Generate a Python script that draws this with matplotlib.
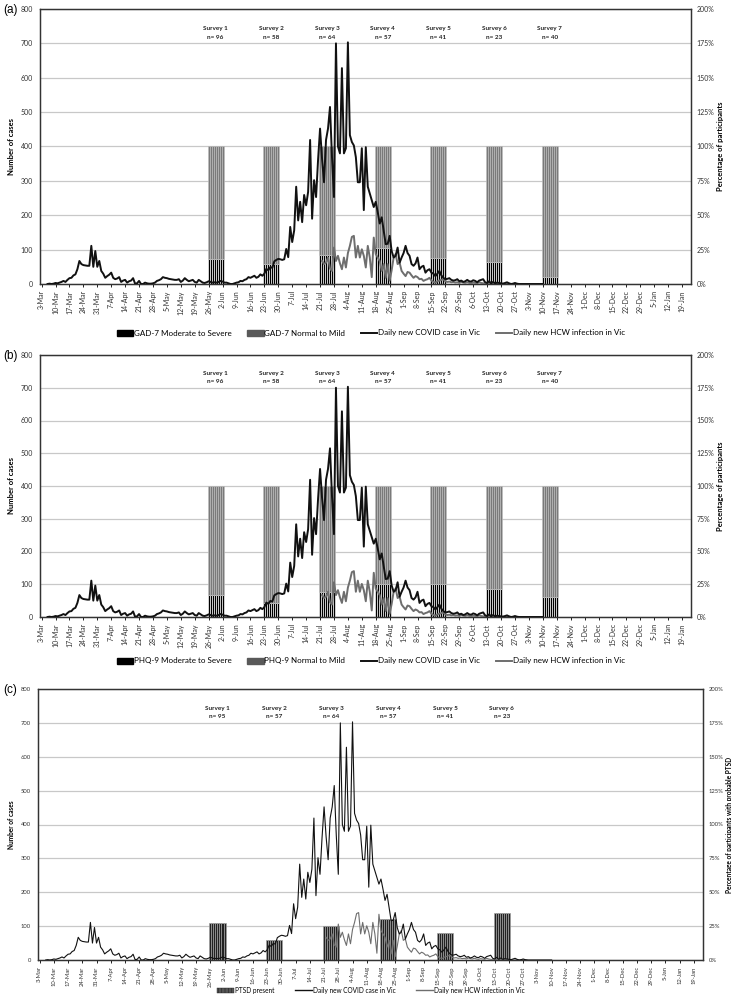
import numpy as np
import pandas as pd
import matplotlib
matplotlib.use("Agg")
import matplotlib.pyplot as plt
from matplotlib.patches import Patch
from matplotlib.lines import Line2D
from matplotlib.ticker import PercentFormatter

plt.rcParams['font.family'] = ['Lato', 'DejaVu Sans']
plt.rcParams['hatch.linewidth'] = 0.4

# ---- data ----
start_date = '2020-03-03'
n_days = 327  # axis runs 3-Mar-2020 .. 25-Jan-2021
nan = np.nan

# daily new COVID cases in Victoria, one value per day from 3-Mar
cases = [
    nan, nan, nan, 0, 1, 0, 1, 3, 2, 4,
    6, 9, 6, 12, 17, 18, 25, 28, 43, 67,
    58, 55, 54, 53, 53, 111, 50, 96, 50, 67,
    38, 30, 18, 23, 27, 33, 18, 14, 16, 20,
    6, 10, 12, 4, 8, 10, 17, 1, 2, 9,
    0, 0, 4, 2, 1, 1, 2, 4, 9, 11,
    14, 20, 18, 17, 15, 14, 13, 12, 12, 14,
    6, 10, 17, 12, 8, 10, 12, 6, 4, 12,
    8, 4, 3, 5, 8, 6, 4, 5, 4, 6,
    9, 7, 4, 4, 2, 0, 0, 2, 4, 5,
    9, 8, 12, 14, 20, 18, 21, 24, 18, 21,
    28, 24, 30, 44, 40, 49, 47, 66, 70, 73,
    72, 70, 72, 102, 78, 166, 122, 156, 283, 185,
    239, 180, 259, 229, 268, 419, 190, 302, 253, 361,
    452, 364, 296, 419, 452, 515, 369, 253, 700, 400,
    380, 628, 380, 395, 703, 433, 413, 403, 369, 296,
    296, 395, 215, 398, 283, 263, 244, 224, 239, 209,
    176, 194, 155, 116, 117, 140, 96, 77, 82, 106,
    62, 77, 90, 111, 90, 82, 58, 53, 60, 77,
    43, 50, 53, 33, 40, 43, 33, 30, 23, 30,
    38, 25, 18, 14, 15, 17, 12, 10, 11, 14,
    8, 10, 6, 8, 12, 8, 7, 11, 9, 5,
    10, 12, 14, 5, 3, 8, 2, 6, 2, 4,
    3, 2, 1, 3, 5, 2, 0, 1, 3, 1,
    0, 0, 0, 0, 0, 0, 0, 0, 0, 0,
    0, 0, 0,
]

# daily new HCW infections in Victoria, from 22-Jul
hcw_start = '2020-07-22'
hcw = [
    67, 58, 62, 77, 45, 38, 106, 67, 82, 60,
    43, 77, 48, 90, 111, 137, 140, 77, 111, 77,
    101, 82, 48, 111, 77, 20, 135, 87, 77, 67,
    38, 58, 18, 58, 10, 40, 77, 87, 58, 62,
    38, 30, 23, 35, 33, 25, 18, 23, 20, 14,
    15, 9, 12, 14, 18, 10, 6, 4, 8, 10,
    12, 14, 8, 6, 7, 5, 6, 4, 5, 3,
    6, 4, 3, 5, 3, 2, 4, 3, 2, 5,
    3, 2, 1, 2, 1, 2, 1, 0, 1, 1,
    0, 1, 0, 0, 1, 0, 0, 0, 0, 0,
]

# survey windows (8 days each)
survey_starts = ['2020-05-26', '2020-06-23', '2020-07-21', '2020-08-18',
                 '2020-09-15', '2020-10-13', '2020-11-10']
survey_days = 8
survey_names = ['Survey 1', 'Survey 2', 'Survey 3', 'Survey 4',
                'Survey 5', 'Survey 6', 'Survey 7']
n_ab = [96, 58, 64, 57, 41, 23, 40]
n_c = [95, 57, 64, 57, 41, 23]

gad_mod_severe = [18.5, 14.8, 21.2, 26.5, 19.2, 16.3, 5.0]   # %
phq_mod_severe = [16.5, 11.0, 19.0, 25.0, 25.0, 21.0, 15.0]  # %
ptsd_present = [27.0, 14.5, 25.0, 30.0, 20.0, 35.0]          # %

# ---- helpers ----
dates = pd.date_range(start_date, periods=n_days)
day0 = dates[0]
x_cases = np.arange(len(cases))
x_hcw = (pd.Timestamp(hcw_start) - day0).days + np.arange(len(hcw))
s_idx = [(pd.Timestamp(s) - day0).days for s in survey_starts]
tick_pos = np.arange(0, n_days, 7)
tick_lab = [f"{d.day}-{d.strftime('%b')}" for d in dates[tick_pos]]

fig = plt.figure(figsize=(7.31, 10.02), dpi=100)
W, H = 731, 1002


def panel(box, tag, bars_pct, n_list, labels, right_label, lw, leg_y, bar_kind, fs):
    l, t, r, b = box
    ax = fig.add_axes([l / W, 1 - b / H, (r - l) / W, (b - t) / H])
    ax2 = ax.twinx()
    ax.set_zorder(ax2.get_zorder() + 1)
    ax.patch.set_visible(False)

    # daily bars on the percentage axis
    for k, pct in enumerate(bars_pct):
        xs = s_idx[k] + np.arange(survey_days)
        if bar_kind == 'stack':
            ax2.bar(xs, [pct] * survey_days, width=1.0, color='#000000',
                    edgecolor='white', linewidth=0.45, zorder=2)
            ax2.bar(xs, [100 - pct] * survey_days, bottom=pct, width=1.0,
                    color='#7a7a7a', edgecolor='#bdbdbd', linewidth=0.45, zorder=2)
        else:
            ax2.bar(xs, [pct] * survey_days, width=1.0, color='#222222',
                    edgecolor='#a0a0a0', linewidth=0.5, zorder=2)
    ax2.set_ylim(0, 200)
    ax2.set_yticks(np.arange(0, 201, 25))
    ax2.yaxis.set_major_formatter(PercentFormatter(100, decimals=0))
    ax2.grid(axis='y', color='#c8c8c8', lw=0.9, zorder=0)
    ax2.set_axisbelow(True)
    ax2.tick_params(axis='y', length=0, labelsize=fs, labelcolor='#333333', pad=4)
    ax2.set_ylabel(right_label, fontsize=fs + 0.5, fontweight='bold', labelpad=1.5)

    ax.plot(x_cases, cases, color='#111111', lw=lw, zorder=5)
    ax.plot(x_hcw, hcw, color='#6e6e6e', lw=lw, zorder=4)
    ax.set_ylim(0, 800)
    ax.set_yticks(np.arange(0, 801, 100))
    ax.set_xlim(-0.8, n_days - 0.5)
    ax.set_xticks(tick_pos)
    ax.set_xticklabels(tick_lab, rotation=90, fontsize=fs, color='#333333')
    ax.tick_params(axis='x', length=2.5, width=0.6, pad=2)
    ax.tick_params(axis='y', length=0, labelsize=fs, labelcolor='#333333', pad=5)
    ax.set_ylabel('Number of cases', fontsize=fs + 0.5, fontweight='bold', labelpad=4)
    for sp in list(ax.spines.values()) + list(ax2.spines.values()):
        sp.set_color('#333333')
        sp.set_linewidth(0.9)

    for k, nn in enumerate(n_list):
        xc = s_idx[k] + (survey_days - 1) / 2
        ax.text(xc, 742, survey_names[k], ha='center', va='center',
                fontsize=4.6, fontweight='bold', color='#222222')
        ax.text(xc, 718, f'n= {nn}', ha='center', va='center',
                fontsize=4.6, fontweight='bold', color='#222222')

    fig.text(3 / W, 1 - (t + 1) / H, tag, fontsize=8.5, va='center', ha='left',
             family='Liberation Sans')

    if bar_kind == 'stack':
        handles = [Patch(color='#000000'), Patch(color='#595959'),
                   Line2D([], [], color='#111111', lw=1.4),
                   Line2D([], [], color='#6e6e6e', lw=1.4)]
        lfs, cs, hl = 5.8, 2.0, 2.0
    else:
        handles = [Patch(facecolor='#555555', edgecolor='#222222', hatch='|||||', lw=0.3),
                   Line2D([], [], color='#111111', lw=1.0),
                   Line2D([], [], color='#6e6e6e', lw=1.0)]
        lfs, cs, hl = fs + 0.5, 3.2, 2.6
    fig.legend(handles, labels, loc='center', bbox_to_anchor=(371 / W, 1 - leg_y / H),
               ncol=len(labels), frameon=False, fontsize=lfs, handlelength=hl,
               handleheight=0.7, handletextpad=0.1, columnspacing=cs)


panel((40, 9, 691, 284), '(a)', gad_mod_severe, n_ab,
      ['GAD-7 Moderate to Severe', 'GAD-7 Normal to Mild',
       'Daily new COVID case in Vic', 'Daily new HCW infection in Vic'],
      'Percentage of participants', 1.4, 333, 'stack', 5)

panel((40, 355, 691, 617), '(b)', phq_mod_severe, n_ab,
      ['PHQ-9 Moderate to Severe', 'PHQ-9 Normal to Mild',
       'Daily new COVID case in Vic', 'Daily new HCW infection in Vic'],
      'Percentage of participants', 1.4, 661, 'stack', 5)

panel((38, 689, 703, 960), '(c)', ptsd_present, n_c,
      ['PTSD present', 'Daily new COVID case in Vic', 'Daily new HCW infection in Vic'],
      'Percentage of participants with probable PTSD', 0.8, 990, 'single', 4.2)

fig.savefig('out.png', dpi=100)
